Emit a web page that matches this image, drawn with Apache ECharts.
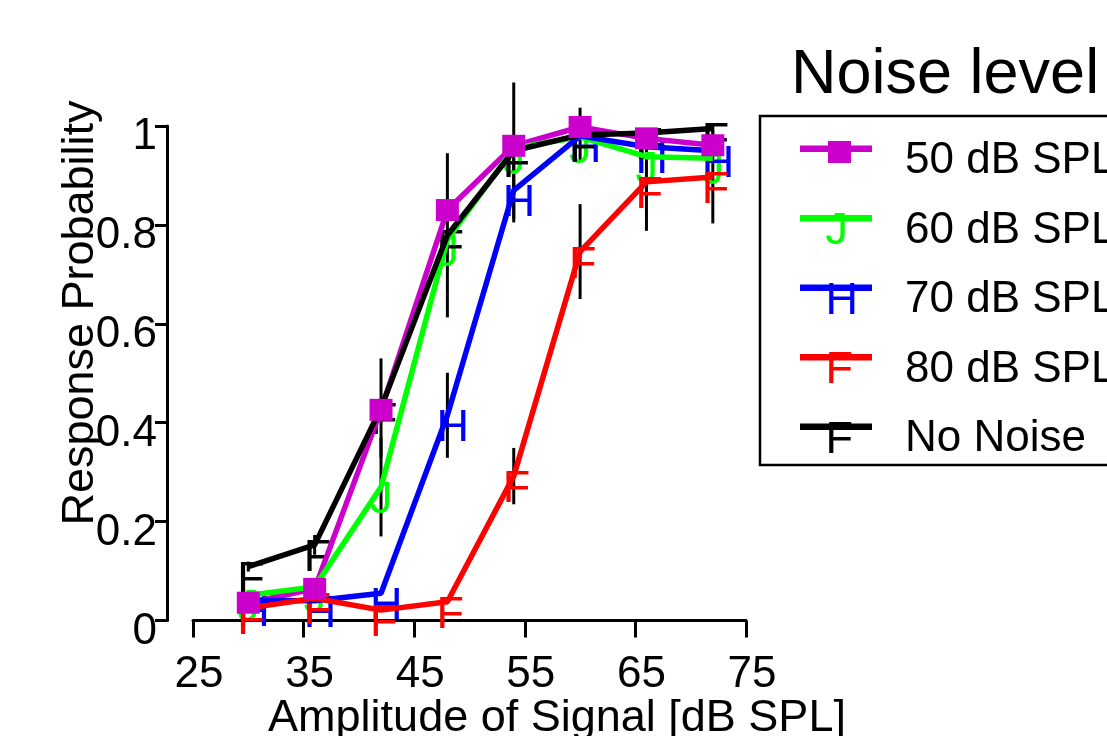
<!DOCTYPE html>
<html><head><meta charset="utf-8">
<script src="https://cdn.jsdelivr.net/npm/echarts@6/dist/echarts.min.js"></script>
<style>html,body{margin:0;padding:0;background:#fff}#c{width:1107px;height:736px}</style>
</head><body><div id="c"></div>
<script>
const xValues = [30, 36, 42, 48, 54, 60, 66, 72];
const seriesNames = ['50 dB SPL', '60 dB SPL', '70 dB SPL', '80 dB SPL', 'No Noise'];
const seriesColors = ['#cc00cc', '#00ff00', '#0000ff', '#ff0000', '#000000'];
const seriesMarkers = ['square', 'J', 'H', 'F', 'F'];
const spl50 = [0.036, 0.064, 0.426, 0.83, 0.96, 0.998, 0.975, 0.961];
const spl60 = [0.051, 0.068, 0.27, 0.77, 0.955, 0.978, 0.938, 0.935];
const spl70 = [0.041, 0.040, 0.055, 0.415, 0.87, 0.98, 0.958, 0.95];
const spl80 = [0.025, 0.045, 0.021, 0.038, 0.292, 0.746, 0.887, 0.897];
const noNoise = [0.109, 0.153, 0.43, 0.779, 0.95, 0.982, 0.986, 0.995];
const err50 = [0, 0, 0, 0, 0, 0, 0, 0];
const err60 = [0, 0, 0.10, 0, 0, 0, 0, 0];
const err70 = [0, 0, 0, 0.086, 0.065, 0, 0, 0];
const err80 = [0, 0, 0, 0, 0.057, 0.096, 0.099, 0.094];
const errNo = [0.01, 0.02, 0.10, 0.166, 0.138, 0.055, 0.01, 0.01];
const xTicks = [25, 35, 45, 55, 65, 75];
const yTicks = [0, 0.2, 0.4, 0.6, 0.8, 1];
const xTitle = 'Amplitude of Signal [dB SPL]';
const yTitle = 'Response Probability';
const legendTitle = 'Noise level';

const values = [spl50, spl60, spl70, spl80, noNoise];
const errors = [err50, err60, err70, err80, errNo];
const FONT = '"Liberation Sans", Arial, sans-serif';

const series = [];
const errData = [];
values.forEach((vals, s) => vals.forEach((v, i) => { if (errors[s][i] > 0) errData.push([xValues[i], v, errors[s][i]]); }));
series.push({
  type: 'custom', silent: true, clip: false, z: 1,
  data: errData,
  encode: { x: 0, y: 1 },
  renderItem(params, api) {
    const x = api.value(0), y = api.value(1), e = api.value(2);
    const p1 = api.coord([x, y - e]), p2 = api.coord([x, y + e]);
    return { type: 'line', shape: { x1: p1[0], y1: p1[1], x2: p2[0], y2: p2[1] }, style: { stroke: '#000', lineWidth: 3 } };
  }
});
values.forEach((vals, s) => {
  const isSquare = seriesMarkers[s] === 'square';
  series.push({
    type: 'line', name: seriesNames[s], z: 2,
    data: xValues.map((x, i) => [x, vals[i]]),
    symbol: isSquare ? 'rect' : 'none', symbolSize: [23, 22],
    showSymbol: isSquare,
    lineStyle: { color: seriesColors[s], width: 5.5 },
    itemStyle: { color: seriesColors[s] },
    clip: false, silent: true
  });
  if (!isSquare) {
    series.push({
      type: 'custom', name: seriesNames[s], silent: true, clip: false, z: 2,
      data: xValues.map((x, i) => [x, vals[i]]),
      encode: { x: 0, y: 1 },
      renderItem(params, api) {
        const p = api.coord([api.value(0), api.value(1)]);
        return { type: 'text', x: p[0] - 11, y: p[1] + 13.5,
          style: { text: seriesMarkers[s], fill: seriesColors[s], font: '45px ' + FONT, align: 'left', verticalAlign: 'middle' } };
      }
    });
  }
});

const graphics = [];
graphics.push({ type: 'text', x: 791, y: 76, style: { text: legendTitle, fill: '#000', font: '63px ' + FONT, align: 'left', verticalAlign: 'middle' } });
graphics.push({ type: 'rect', shape: { x: 760, y: 116, width: 420, height: 349 }, style: { fill: 'none', stroke: '#000', lineWidth: 2.5 } });
seriesNames.forEach((name, s) => {
  const ly = 148.7 + s * 69.5;
  graphics.push({ type: 'line', shape: { x1: 800, y1: ly, x2: 872, y2: ly }, style: { stroke: seriesColors[s], lineWidth: 6.5 } });
  if (seriesMarkers[s] === 'square') {
    graphics.push({ type: 'rect', shape: { x: 828, y: 141, width: 23, height: 22 }, style: { fill: seriesColors[s] } });
  } else {
    graphics.push({ type: 'text', x: 825.5, y: ly + 13.5, style: { text: seriesMarkers[s], fill: seriesColors[s], font: '45px ' + FONT, align: 'left', verticalAlign: 'middle' } });
  }
  graphics.push({ type: 'text', x: 905, y: ly + 12.5, style: { text: name, fill: '#000', font: '44px ' + FONT, align: 'left', verticalAlign: 'middle' } });
});
graphics.push({ type: 'text', x: 557, y: 719, style: { text: xTitle, fill: '#000', font: '45px ' + FONT, align: 'center', verticalAlign: 'middle' } });
graphics.push({ type: 'text', x: 81, y: 313, rotation: Math.PI / 2, style: { text: yTitle, fill: '#000', font: '45px ' + FONT, align: 'center', verticalAlign: 'middle' } });

const chart = echarts.init(document.getElementById('c'), null, { renderer: 'canvas' });
chart.setOption({
  animation: false,
  backgroundColor: '#fff',
  grid: { left: 193, right: 361, top: 126, bottom: 115.5, containLabel: false, outerBoundsMode: 'none' },
  xAxis: {
    type: 'value', min: xTicks[0], max: xTicks[xTicks.length - 1], interval: xTicks[1] - xTicks[0],
    splitLine: { show: false },
    axisLine: { show: true, lineStyle: { color: '#000', width: 3 } },
    axisTick: { show: true, inside: false, length: 17, lineStyle: { color: '#000', width: 3 } },
    axisLabel: { color: '#000', fontSize: 44, fontFamily: FONT, margin: 32, padding: [0, 0, 0, 12] }
  },
  yAxis: {
    type: 'value', min: yTicks[0], max: yTicks[yTicks.length - 1], interval: yTicks[1] - yTicks[0],
    offset: 26,
    splitLine: { show: false },
    axisLine: { show: true, lineStyle: { color: '#000', width: 3 } },
    axisTick: { show: true, inside: false, length: 12, lineStyle: { color: '#000', width: 3 } },
    axisLabel: { color: '#000', fontSize: 44, fontFamily: FONT, margin: 10, verticalAlign: 'top', lineHeight: 22 }
  },
  series: series,
  graphic: graphics
});
</script></body></html>
